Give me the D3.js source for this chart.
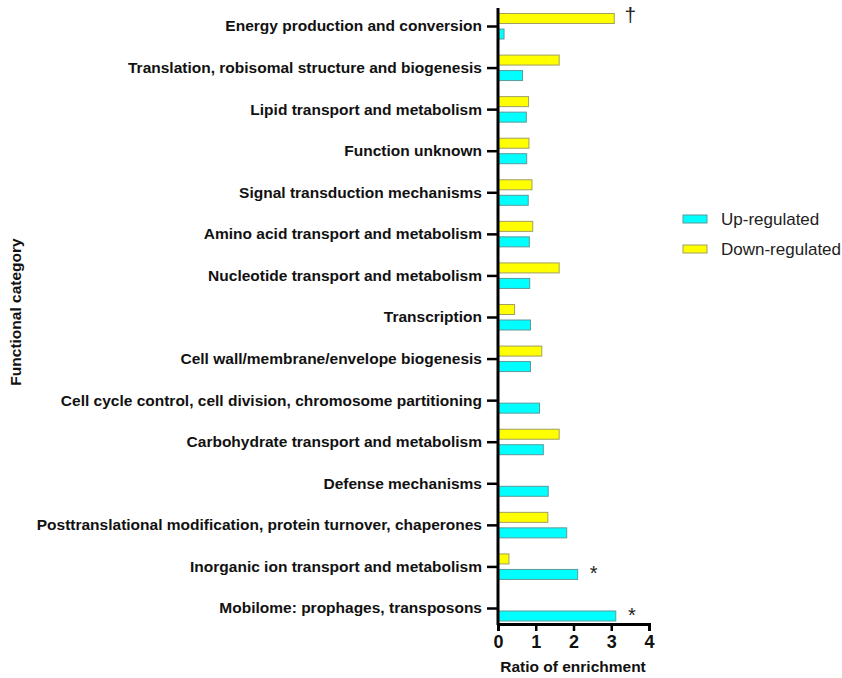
<!DOCTYPE html>
<html>
<head>
<meta charset="utf-8">
<script src="https://cdn.jsdelivr.net/npm/d3@7/dist/d3.min.js"></script>
<style>
  body { margin: 0; background: #fff; }
  text { font-family: "Liberation Sans", Arial, sans-serif; }
</style>
</head>
<body>
<script>
const categories = [
  "Energy production and conversion",
  "Translation, robisomal structure and biogenesis",
  "Lipid transport and metabolism",
  "Function unknown",
  "Signal transduction mechanisms",
  "Amino acid transport and metabolism",
  "Nucleotide transport and metabolism",
  "Transcription",
  "Cell wall/membrane/envelope biogenesis",
  "Cell cycle control, cell division, chromosome partitioning",
  "Carbohydrate transport and metabolism",
  "Defense mechanisms",
  "Posttranslational modification, protein turnover, chaperones",
  "Inorganic ion transport and metabolism",
  "Mobilome: prophages, transposons"
];
const upRegulated = [0.16, 0.65, 0.75, 0.76, 0.8, 0.83, 0.84, 0.86, 0.86, 1.1, 1.2, 1.33, 1.82, 2.11, 3.12];
const downRegulated = [3.08, 1.62, 0.81, 0.82, 0.9, 0.92, 1.62, 0.44, 1.16, 0, 1.62, 0, 1.32, 0.29, 0];
const marks = [
  { cat: "Energy production and conversion", series: "down", sym: "\u2020" },
  { cat: "Inorganic ion transport and metabolism", series: "up", sym: "*" },
  { cat: "Mobilome: prophages, transposons", series: "up", sym: "*" }
];
const xTicks = [0, 1, 2, 3, 4];

const width = 842, height = 678;
const svg = d3.select("body").append("svg")
  .attr("width", width).attr("height", height);

const x = d3.scaleLinear().domain([0, 4]).range([498, 649]);
const y = d3.scalePoint().domain(categories).range([26, 608]);

const g = svg.append("g");

// bars
const barH = 10;
g.selectAll(".down").data(categories).enter().append("rect")
  .filter((d, i) => downRegulated[i] > 0)
  .attr("x", x(0))
  .attr("y", d => y(d) - 12.5)
  .attr("width", (d) => x(downRegulated[categories.indexOf(d)]) - x(0))
  .attr("height", barH)
  .attr("fill", "#ffff00")
  .attr("stroke", "#a0a060")
  .attr("stroke-width", 1);

g.selectAll(".up").data(categories).enter().append("rect")
  .attr("x", x(0))
  .attr("y", d => y(d) + 3)
  .attr("width", (d, i) => x(upRegulated[i]) - x(0))
  .attr("height", barH)
  .attr("fill", "#00ffff")
  .attr("stroke", "#5a9a9a")
  .attr("stroke-width", 1);

// significance marks
g.selectAll(".mark").data(marks).enter().append("text")
  .attr("x", d => {
    const i = categories.indexOf(d.cat);
    const v = d.series == "up" ? upRegulated[i] : downRegulated[i];
    return x(v) + 16;
  })
  .attr("y", d => d.series == "up" ? y(d.cat) + 14 : y(d.cat) - 4)
  .attr("text-anchor", "middle")
  .attr("font-size", d => d.sym == "*" ? "20px" : "21px")
  .attr("fill", "#222")
  .text(d => d.sym);

// y axis
const yAxis = g.append("g")
  .attr("transform", `translate(${x(0)},0)`)
  .call(d3.axisLeft(y).tickSize(11).tickPadding(5));
yAxis.select(".domain").remove();
yAxis.selectAll(".tick line").attr("stroke", "#000").attr("stroke-width", 2.5);
yAxis.selectAll(".tick text")
  .attr("font-size", "15.5px").attr("font-weight", "bold").attr("fill", "#111")
  .attr("font-family", "Liberation Sans, Arial, sans-serif");
g.append("line")
  .attr("x1", x(0)).attr("x2", x(0))
  .attr("y1", 8).attr("y2", 625)
  .attr("stroke", "#000").attr("stroke-width", 3);

// x axis
const xAxis = g.append("g")
  .attr("transform", "translate(0,624)")
  .call(d3.axisBottom(x).tickValues(xTicks).tickFormat(d3.format("d")).tickSize(7).tickPadding(4));
xAxis.select(".domain").attr("stroke", "#000").attr("stroke-width", 3);
xAxis.selectAll(".tick line").attr("stroke", "#000").attr("stroke-width", 2.5);
xAxis.selectAll(".tick text")
  .attr("font-size", "18px").attr("font-weight", "bold").attr("fill", "#111")
  .attr("font-family", "Liberation Sans, Arial, sans-serif");

// axis titles
svg.append("text")
  .attr("x", 573).attr("y", 672)
  .attr("text-anchor", "middle")
  .attr("font-size", "15.5px").attr("font-weight", "bold").attr("fill", "#111")
  .text("Ratio of enrichment");

svg.append("text")
  .attr("transform", "translate(21,312) rotate(-90)")
  .attr("text-anchor", "middle")
  .attr("font-size", "15.5px").attr("font-weight", "bold").attr("fill", "#111")
  .text("Functional category");

// legend
const legendItems = [
  { label: "Up-regulated", fill: "#00ffff", stroke: "#5a9a9a" },
  { label: "Down-regulated", fill: "#ffff00", stroke: "#a0a060" }
];
const legend = svg.append("g").attr("transform", "translate(683,215)");
const li = legend.selectAll("g").data(legendItems).enter().append("g")
  .attr("transform", (d, i) => `translate(0,${i * 30})`);
li.append("rect")
  .attr("width", 24).attr("height", 8)
  .attr("fill", d => d.fill).attr("stroke", d => d.stroke);
li.append("text")
  .attr("x", 38).attr("y", 10)
  .attr("font-size", "17px").attr("fill", "#222")
  .text(d => d.label);
</script>
</body>
</html>
